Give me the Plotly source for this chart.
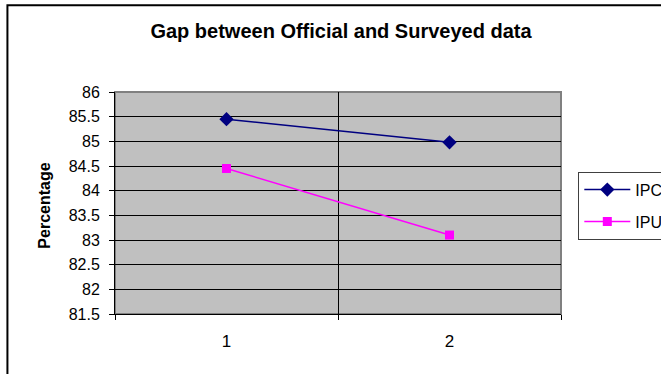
import plotly.graph_objects as go

categories = [1, 2]
category_labels = ["1", "2"]
ipc_values = [85.45, 84.98]
ipu_values = [84.45, 83.10]
y_ticks = [81.5, 82, 82.5, 83, 83.5, 84, 84.5, 85, 85.5, 86]

FONT = "Arial, Liberation Sans, sans-serif"

fig = go.Figure()
fig.add_trace(go.Scatter(
    x=categories, y=ipc_values, name="IPC", mode="lines+markers",
    line=dict(color="#000080", width=1.5),
    marker=dict(symbol="diamond", size=11, color="#000080"),
    legendgroup="a",
))
fig.add_trace(go.Scatter(
    x=categories, y=ipu_values, name="IPU", mode="lines+markers",
    line=dict(color="#FF00FF", width=1.5),
    marker=dict(symbol="square", size=9, color="#FF00FF"),
    legendgroup="b",
))

W, H = 661, 374
L, T = 115, 92.3
R = W - 560.7
B = H - 314.3
pw = W - L - R
ph = H - T - B

fig.update_layout(
    width=W, height=H,
    margin=dict(l=L, r=R, t=T, b=B, autoexpand=False),
    paper_bgcolor="white",
    plot_bgcolor="#C0C0C0",
    font=dict(family=FONT, size=15, color="black"),
    title=dict(text="<b>Gap between Official and Surveyed data</b>",
               x=341 / W, xanchor="center",
               y=1 - 31 / H, yanchor="middle",
               font=dict(size=20, family=FONT, color="black")),
    showlegend=True,
    legend=dict(
        x=(578 - L) / pw, xanchor="left",
        y=(H - B - 172) / ph, yanchor="top",
        bgcolor="white", bordercolor="#404040", borderwidth=1,
        font=dict(size=16, family=FONT),
        traceorder="grouped", tracegroupgap=8,
        itemwidth=46,
    ),
    xaxis=dict(
        range=[0.5, 2.5],
        tickvals=categories, ticktext=category_labels,
        ticks="", showgrid=False, zeroline=False,
        showline=True, linecolor="black", linewidth=1,
        ticklabelstandoff=12,
        tickfont=dict(size=17, family=FONT),
        minor=dict(tick0=0.5, dtick=1, showgrid=True, gridcolor="black",
                   gridwidth=1, ticks="outside", ticklen=5,
                   tickcolor="black", tickwidth=1),
        fixedrange=True,
    ),
    yaxis=dict(
        range=[81.5, 86],
        tickvals=y_ticks, ticktext=[f"{v:g}" for v in y_ticks],
        showgrid=True, gridcolor="black", gridwidth=1,
        zeroline=False,
        showline=True, linecolor="black", linewidth=1,
        ticks="outside", ticklen=5, tickcolor="black",
        ticklabelstandoff=6,
        tickfont=dict(size=16, family=FONT),
        fixedrange=True,
    ),
    annotations=[dict(
        text="<b>Percentage</b>", textangle=-90,
        xref="paper", yref="paper",
        x=(45 - L) / pw, y=(H - B - 206) / ph, xanchor="center", yanchor="middle",
        showarrow=False, font=dict(size=16, family=FONT),
    )],
    shapes=[
        dict(type="rect", xref="paper", yref="paper",
             x0=0, x1=1, y0=0, y1=1,
             line=dict(color="#808080", width=2), layer="below"),
        dict(type="rect", xref="paper", yref="paper",
             x0=(7.5 - L) / pw, x1=(W + 20 - L) / pw,
             y0=-(B + 20) / ph, y1=(H - B - 5.5) / ph,
             line=dict(color="black", width=2)),
    ],
)

fig.write_html("out.html", config={"displayModeBar": False},
               post_script="document.body.style.margin='0px';")
